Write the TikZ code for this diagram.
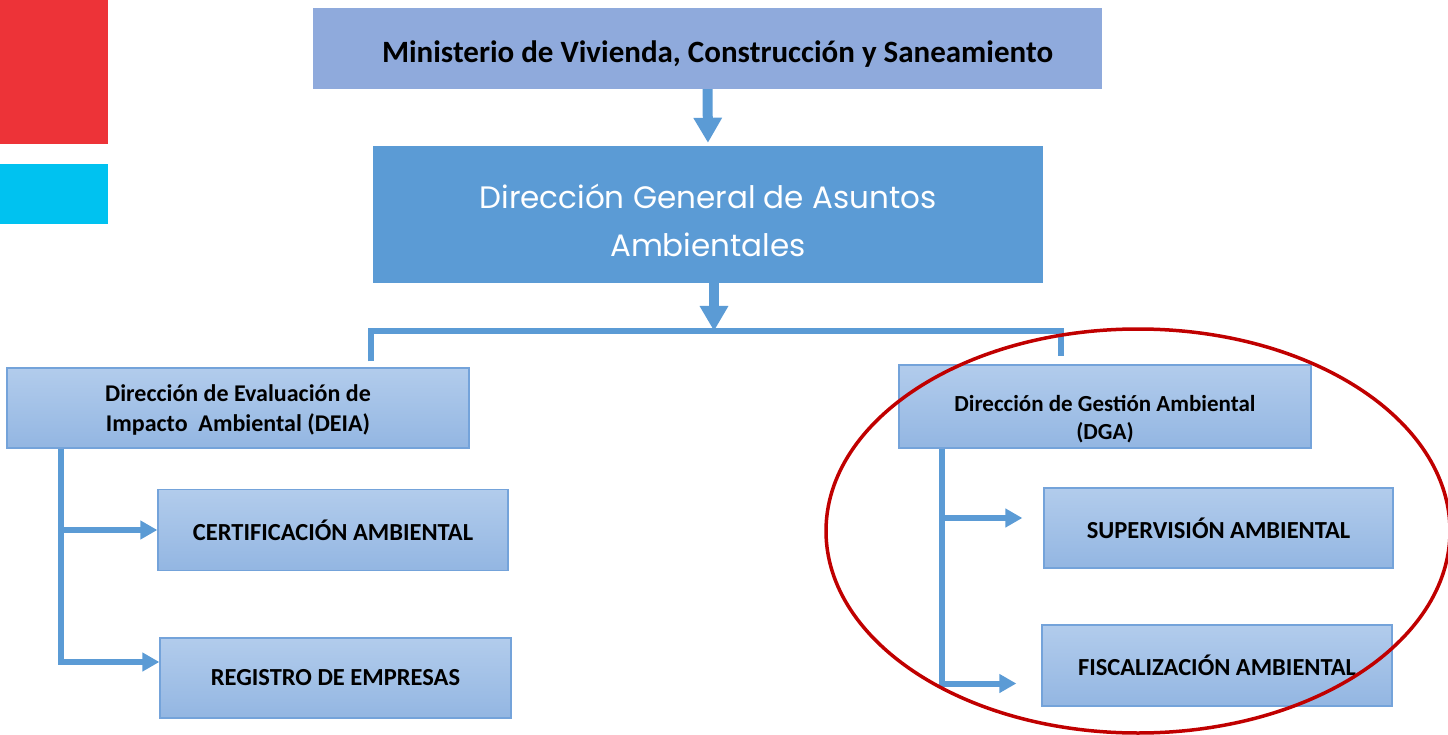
\documentclass[tikz,border=0pt]{standalone}
\usepackage{fontspec}
\setmainfont{Carlito}
\newfontfamily\gothicfont{Poppins}
\usetikzlibrary{arrows.meta}
\definecolor{topblue}{RGB}{143,170,220}
\definecolor{midblue}{RGB}{91,155,213}
\definecolor{lightblue}{RGB}{178,204,236}
\definecolor{paleblue}{RGB}{147,182,226}
\definecolor{edgeblue}{RGB}{116,163,218}
\definecolor{logored}{RGB}{237,51,56}
\definecolor{logocyan}{RGB}{0,194,240}
\definecolor{ringred}{RGB}{192,0,0}

\tikzset{
  unitbox/.style={draw=edgeblue, line width=1.3pt, top color=lightblue,
    bottom color=paleblue, align=center, inner sep=0pt,
    font=\bfseries\fontsize{24.5}{30}\selectfont},
  bigarrow/.style={draw=midblue, line width=10pt,
    -{Triangle[width=27pt,length=25pt]}},
  busline/.style={draw=midblue, line width=6pt},
  branch/.style={draw=midblue, line width=6pt,
    -{Triangle[width=18pt,length=17pt]}}
}

\begin{document}
\begin{tikzpicture}[x=1pt,y=-1pt]
\useasboundingbox (0,0) rectangle (1448,735);
% logo
\fill[logored] (0,0) rectangle (108,144);
\fill[logocyan] (0,164) rectangle (108,224);

\node[fill=topblue, minimum width=789, minimum height=81, inner sep=0pt,
  text height=29pt, text depth=0pt,
  font=\bfseries\fontsize{31}{36}\selectfont] (min) at (707.5,48.5)
  {\hspace*{20pt}Ministerio de Vivienda, Construcción y Saneamiento};
\node[fill=midblue, text=white, minimum width=670, minimum height=137,
  inner sep=0pt, align=center, text height=92pt, text depth=7pt,
  font=\gothicfont\fontsize{31}{48}\selectfont]
  (gen) at (708,214.5) {Dirección General de Asuntos\\Ambientales};

\node[unitbox, minimum width=462, minimum height=80, text height=52pt,
  text depth=6pt, font=\bfseries\fontsize{24}{30}\selectfont] (deia)
  at (238,408) {Dirección de Evaluación de\\Impacto\ \ Ambiental (DEIA)};
\node[unitbox, minimum width=412, minimum height=83, text height=72pt,
  text depth=6pt, font=\bfseries\fontsize{23}{28}\selectfont] (dga)
  at (1105,406.5) {Dirección de Gestión Ambiental\\(DGA)};
\node[unitbox, minimum width=350, minimum height=81] (cert) at (333,530)
  {CERTIFICACIÓN AMBIENTAL};
\node[unitbox, minimum width=351, minimum height=80] (reg) at (335.5,678)
  {REGISTRO DE EMPRESAS};
\node[unitbox, minimum width=349, minimum height=80] (sup) at (1218.5,528)
  {SUPERVISIÓN AMBIENTAL};
\node[unitbox, minimum width=350, minimum height=81] (fisc) at (1217,665.5)
  {FISCALIZACIÓN AMBIENTAL};

\coordinate (busmid) at (714,331);
\coordinate (busL) at (371,331);
\coordinate (busR) at (1061,331);
\coordinate (deiaTrunk) at ([xshift=55pt]deia.south west);
\coordinate (dgaTrunk) at ([xshift=44pt]dga.south west);

\draw[bigarrow, shorten >=3pt] (min.south) -- (gen.north);
\draw[bigarrow] (busmid |- gen.south) -- (busmid);
\draw[busline, shorten <=6pt, shorten >=8pt]
  (busL |- deia.north) -- (busL) -- (busR) -- (busR |- dga.north);

\draw[branch] (deiaTrunk) |- (cert.west);
\draw[branch] (deiaTrunk) |- ([yshift=16pt]reg.west);
\draw[branch, shorten >=21pt] (dgaTrunk) |- ([yshift=10pt]sup.west);
\draw[branch, shorten >=25pt] (dgaTrunk) |- ([yshift=-18pt]fisc.west);

\draw[ringred, line width=3.5pt] (1138,531) ellipse [x radius=312, y radius=202];
\end{tikzpicture}
\end{document}
